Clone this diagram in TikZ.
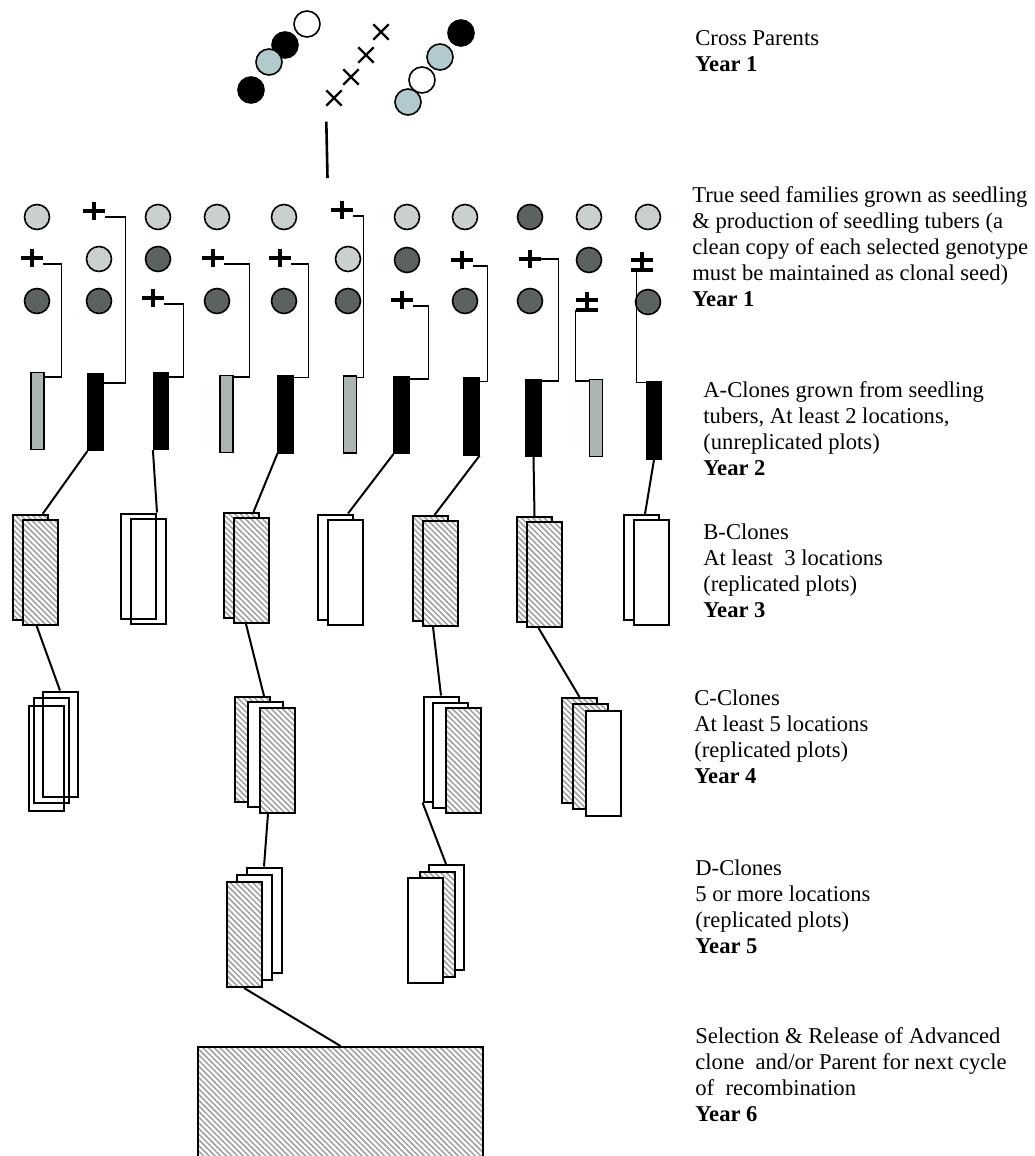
\documentclass[tikz,border=0pt]{standalone}
\usepackage{fontspec}
\setmainfont{Liberation Serif}
\usetikzlibrary{calc,shapes.misc,patterns.meta}

\definecolor{seedlight}{RGB}{202,208,208}
\definecolor{seeddark}{RGB}{92,98,98}
\definecolor{bargray}{RGB}{172,180,180}
\definecolor{speckle}{RGB}{178,202,206}
\definecolor{hatchgray}{RGB}{158,158,158}

\tikzset{
  seedL/.style={circle, draw, line width=.8pt, fill=seedlight, inner sep=0pt, minimum size=12.5pt},
  seedD/.style={seedL, fill=seeddark},
  parK/.style={circle, draw, line width=.8pt, fill=black, inner sep=0pt, minimum size=13pt},
  parW/.style={parK, fill=white},
  parS/.style={parK, fill=speckle},
  xmark/.style={cross out, draw, line width=1.2pt, inner sep=0pt, minimum size=6.5pt},
  plusln/.style={line width=1.8pt},
  plusmk/.style={inner sep=0pt, minimum width=11pt, minimum height=9pt,
    append after command={(\tikzlastnode.west) edge[plusln] (\tikzlastnode.east)
      (\tikzlastnode.north) edge[plusln] (\tikzlastnode.south)}},
  pmmk/.style={plusmk, minimum height=8pt,
    append after command={([yshift=-5pt]\tikzlastnode.west) edge[plusln] ([yshift=-5pt]\tikzlastnode.east)}},
  barG/.style={draw, line width=.6pt, fill=bargray, inner sep=0pt, minimum width=6.5pt, minimum height=38.5pt},
  barK/.style={barG, fill=black, minimum width=7.5pt},
  plotW/.style={draw, line width=1pt, fill=white, inner sep=0pt, minimum width=17.5pt, minimum height=52.5pt},
  plotO/.style={plotW, fill=none},
  plotH/.style={plotW, preaction={fill=white},
    pattern={Lines[angle=-45,distance=2pt,line width=.75pt]}, pattern color=hatchgray},
  link/.style={line width=1pt},
  bracket/.style={line width=.8pt},
  textblk/.style={anchor=base west, align=left, inner sep=0pt, font=\fontsize{11.3}{13}\selectfont}
}

\begin{document}
\begin{tikzpicture}[x=.5pt, y=-.5pt]
\path[use as bounding box, fill=white] (0,0) rectangle (1034,1156);

% cross parents
\node[parW] (pl1) at (307,24) {};
\node[parK] (pl2) at (285,45) {};
\node[parS] (pl3) at (269,62) {};
\node[parK] (pl4) at (251,90) {};
\node[parK] (pr1) at (461,33) {};
\node[parS] (pr2) at (440,57) {};
\node[parW] (pr3) at (422,80) {};
\node[parS] (pr4) at (408,102) {};
\foreach \n/\x/\y in {x1/334/98, x2/351/77, x3/366/55, x4/381/32}
  \node[xmark] (\n) at (\x,\y) {};
\coordinate (stem) at (327.5,178);
\draw[line width=1.3pt] (x1.south west) ++(0,16) -- (stem);

% seedlings
\foreach \n/\x/\y in {sl1/37/217, sl2/99/259, sl3/158/217, sl4/217/217, sl5/284/217,
    sl6/348/259, sl7/407/217, sl8/465/217, sl10/589/217, sl11/648/217}
  \node[seedL] (\n) at (\x,\y) {};
\foreach \n/\x/\y in {sd1/37/301, sd2/99/301, sd3/158/259, sd4/217/301, sd5/284/301, sd6/348/301,
    sd7/407/260, sd8/465/301, sd9a/530/217, sd9b/530/301, sd10/589/260, sd11/648/302}
  \node[seedD] (\n) at (\x,\y) {};
\foreach \n/\x/\y in {p1/32/258, p2/94/211, p3/153/298, p4/213/258, p5/280/258,
    p6/342/210, p7/402/300, p8/462/260, p9/530/259}
  \node[plusmk] (\n) at (\x,\y) {};
\node[pmmk] (m10) at (587,300) {};
\node[pmmk] (m11) at (642,260) {};

% A-clones
\foreach \n/\x/\y/\s in {a1/37.5/411/barG, a2/95.5/412/barK, a3/161/411/barK, a4/226.5/414/barG,
    a5/285.5/414.5/barK, a6/350/414.5/barG, a7/401.5/415/barK, a8/471.5/416.5/barK,
    a9/533.5/418/barK, a10/596/418/barG, a11/654/420.5/barK}
  \node[\s] (\n) at (\x,\y) {};
\foreach \p/\a/\dx/\dy/\sy in {p1/a1/17/5/3pt, p2/a2/22/10/3pt, p3/a3/14.5/5/3pt, p4/a4/16/2/3pt,
    p5/a5/15/2/3pt, p6/a6/6.5/2/3pt, p7/a7/19/3/3pt, p8/a8/8/4/3pt, p9/a9/17/2/0pt}
  \draw[bracket] ([yshift=-\sy]\p.east) -| ($(\a.north east)+(\dx,\dy)$) -- ($(\a.north east)+(0,\dy)$);
\draw[bracket] ([yshift=-5pt]m10.west) |- ($(a10.north west)+(0,2)$);
\draw[bracket] ([xshift=3pt,yshift=-5pt]m11.west) |- ($(a11.north west)+(0,1)$);

% B-clones
\foreach \n/\m/\x/\y/\s in {b1a/b1b/30.5/567/plotH, b2a/b2b/138.5/566/plotO, b3a/b3b/241/565.5/plotH,
    b4a/b4b/335.5/567/plotW, b5a/b5b/430/568.5/plotH, b6a/b6b/534.5/569.5/plotH, b7a/b7b/641/567.5/plotW} {
  \node[\s] (\n) at (\x,\y) {};
  \node[\s] (\m) at ($(\n)+(10,5)$) {};
}

% C-clones
\node[plotO] (c1a) at (60,744) {};
\node[plotO] (c1b) at (51.5,750.5) {};
\node[plotO] (c1c) at (46,758.5) {};
\node[plotH] (c2a) at (252,749.5) {};
\node[plotW] (c2b) at (265.5,754.5) {};
\node[plotH] (c2c) at (277,760) {};
\node[plotW] (c3a) at (441,749) {};
\node[plotW] (c3b) at (450.5,755) {};
\node[plotH] (c3c) at (463.5,760.5) {};
\node[plotH] (c4a) at (579.5,750.5) {};
\node[plotH] (c4b) at (590.5,756.5) {};
\node[plotW] (c4c) at (603,763.5) {};

% D-clones
\node[plotW] (d1a) at (264,920) {};
\node[plotW] (d1b) at (254.5,927.5) {};
\node[plotH] (d1c) at (244,934.5) {};
\node[plotW] (d2a) at (446,917.5) {};
\node[plotH] (d2b) at (437.5,924.5) {};
\node[plotW] (d2c) at (425,930) {};

% release
\node[plotH, minimum width=142.5pt, minimum height=57.5pt] (sel) at (340.5,1104.5) {};

\draw[link] (a2.south west) -- ([xshift=-3pt]b1a.north east);
\draw[link] (a3.south west) -- (b2a.north east);
\draw[link] (a5.south west) -- ([xshift=-3pt]b3a.north east);
\draw[link] (a7.south west) -- ([xshift=-3pt]b4a.north east);
\draw[link] (a8.south east) -- ([xshift=-7pt]b5a.north east);
\draw[link] (a9.south) -- (b6a.north);
\draw[link] (a11.south) -- ([xshift=2pt]b7a.north);
\draw[link] ([xshift=-2pt]b1b.south) -- (c1a.north);
\draw[link] ([xshift=-2.5pt]b3b.south) -- ([xshift=6pt]c2a.north);
\draw[link] ([xshift=-3.5pt]b5b.south) -- (c3a.north);
\draw[link] ([xshift=-3pt]b6b.south) -- (c4a.north);
\draw[link] ([xshift=-4.5pt]c2c.south) -- (d1a.north);
\draw[link] (c3a.south west) -- (d2a.north);
\draw[link] (d1c.south) -- (sel.north);

% stage texts (anchored on the last line)
\node[textblk] (t0) at (695,72) {Cross Parents\\\textbf{Year 1}};
\node[textblk] (t1) at (692,306) {True seed families grown as seedling\\
  \& production of seedling tubers (a\\
  clean copy of each selected genotype\\
  must be maintained as clonal seed)\\
  \textbf{Year 1}};
\node[textblk] (t2) at (703,475) {A-Clones grown from seedling\\
  tubers, At least 2 locations,\\
  (unreplicated plots)\\
  \textbf{Year 2}};
\node[textblk] (t3) at (703,617) {B-Clones\\
  At least\ \ 3 locations\\
  (replicated plots)\\
  \textbf{Year 3}};
\node[textblk] (t4) at (694,783) {C-Clones\\
  At least 5 locations\\
  (replicated plots)\\
  \textbf{Year 4}};
\node[textblk] (t5) at (695,953) {D-Clones\\
  5 or more locations\\
  (replicated plots)\\
  \textbf{Year 5}};
\node[textblk] (t6) at (695,1121) {Selection \& Release of Advanced\\
  clone\ \ and/or Parent for next cycle\\
  of\ \ recombination\\
  \textbf{Year 6}};
\end{tikzpicture}
\end{document}
